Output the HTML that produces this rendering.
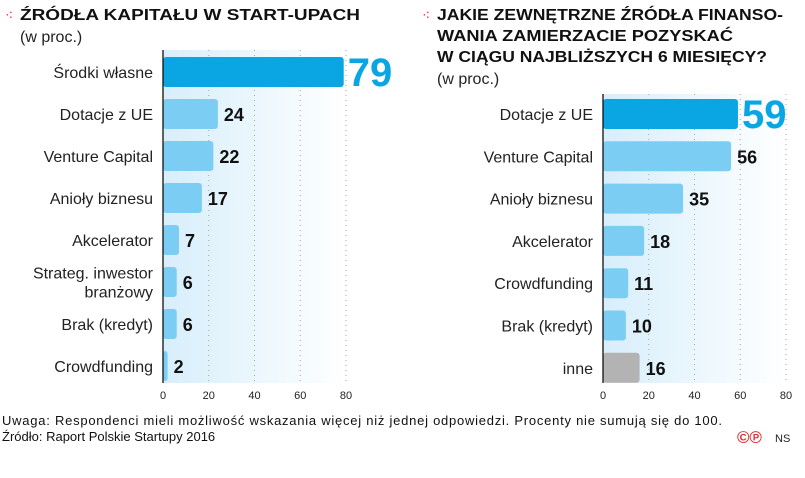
<!DOCTYPE html>
<html><head><meta charset="utf-8"><style>
body{margin:0;width:805px;height:478px;background:#fff;overflow:hidden;font-family:"Liberation Sans",sans-serif}
svg{display:block}
.t{font-weight:bold;text-transform:uppercase;font-size:16px;fill:#111}
.sub{font-size:16px;fill:#222}
.lab{font-size:16px;fill:#222}
.val{font-size:18px;font-weight:bold;fill:#111}
.big{font-size:40px;font-weight:bold;fill:#0aa6e4}
.tick{font-size:11px;fill:#222}
.foot{font-size:13px;fill:#111}
</style></head><body>
<svg id="c" width="805" height="478">
<defs><linearGradient id="g" x1="0" x2="1"><stop offset="0" stop-color="#d7eefb"/><stop offset="1" stop-color="#ffffff"/></linearGradient></defs>
<text x="5" y="20" fill="#e0322e" font-size="14">⁖</text>
<text class="t" x="20" y="20" textLength="340" lengthAdjust="spacingAndGlyphs">Źródła kapitału w start-upach</text>
<text class="sub" x="20" y="42">(w proc.)</text>
<text x="422" y="20" fill="#e0322e" font-size="14">⁖</text>
<text class="t" x="437" y="20" textLength="346" lengthAdjust="spacingAndGlyphs">Jakie zewnętrzne źródła finanso-</text>
<text class="t" x="437" y="41" textLength="296" lengthAdjust="spacingAndGlyphs">wania zamierzacie pozyskać</text>
<text class="t" x="437" y="62" textLength="330" lengthAdjust="spacingAndGlyphs">w ciągu najbliższych 6 miesięcy?</text>
<text class="sub" x="437" y="84">(w proc.)</text>
<text class="foot" x="2" y="425" textLength="720">Uwaga: Respondenci mieli możliwość wskazania więcej niż jednej odpowiedzi. Procenty nie sumują się do 100.</text>
<text class="foot" x="2" y="441">Źródło: Raport Polskie Startupy 2016</text>
<text x="737" y="443" fill="#e0322e" font-size="17" font-weight="bold">©℗</text>
<text x="775" y="442" font-size="11" fill="#222">NS</text>
</svg>
<script>
const leftCats=["Środki własne","Dotacje z UE","Venture Capital","Anioły biznesu","Akcelerator","Strateg. inwestor|branżowy","Brak (kredyt)","Crowdfunding"];
const leftVals=[79,24,22,17,7,6,6,2];
const rightCats=["Dotacje z UE","Venture Capital","Anioły biznesu","Akcelerator","Crowdfunding","Brak (kredyt)","inne"];
const rightVals=[59,56,35,18,11,10,16];
const ticks=[0,20,40,60,80];
const svg=document.getElementById('c');
const NS='http://www.w3.org/2000/svg';
function mk(t,a,txt){const e=document.createElementNS(NS,t);for(const k in a)e.setAttribute(k,a[k]);if(txt!=null)e.textContent=txt;svg.appendChild(e);return e;}
function chart(p,cats,vals,x0,x80,top,y0,pitch,bottom,grey){
  const sx=v=>x0+(x80-x0)*v/80;
  let r=mk('rect',{x:x0,y:top,width:x80-x0,height:bottom-top,fill:'url(#g)'});
  
  ticks.forEach(t=>{
    if(t>0){let l=mk('line',{x1:sx(t),x2:sx(t),y1:top,y2:bottom,stroke:'#9aa',"stroke-dasharray":'1,4'});
    }
    let tx=mk('text',{x:sx(t),y:bottom+16,class:'tick',"text-anchor":'middle'},t);
    
  });
  cats.forEach((c,i)=>{
    const cy=y0+i*pitch, v=vals[i];
    const b=mk('rect',{x:x0,y:cy-15,width:Math.max(sx(v)-x0,3),height:30,rx:3,fill:i===0?'#0aa6e4':(grey&&i===cats.length-1?'#b3b3b3':'#7ccdf3')});
    
    const parts=c.split('|');
    parts.forEach((s,j)=>{
      const ly=cy+6+(j-(parts.length-1)/2)*19;
      const t=mk('text',{x:x0-10,y:ly,class:'lab',"text-anchor":'end'},s);
      
    });
    const vt=mk('text',{x:sx(v)+(i===0?4:6),y:i===0?cy+14:cy+7,class:i===0?'big':'val'},v);
    
  });
  const ax=mk('line',{x1:x0,x2:x0,y1:top,y2:bottom,stroke:'#111',"stroke-width":1.3});
  
}
chart('left',leftCats,leftVals,163,346,50,72,42,383,false);
chart('right',rightCats,rightVals,603,786,94,114,42.3,383,true);
</script>
</body></html>
